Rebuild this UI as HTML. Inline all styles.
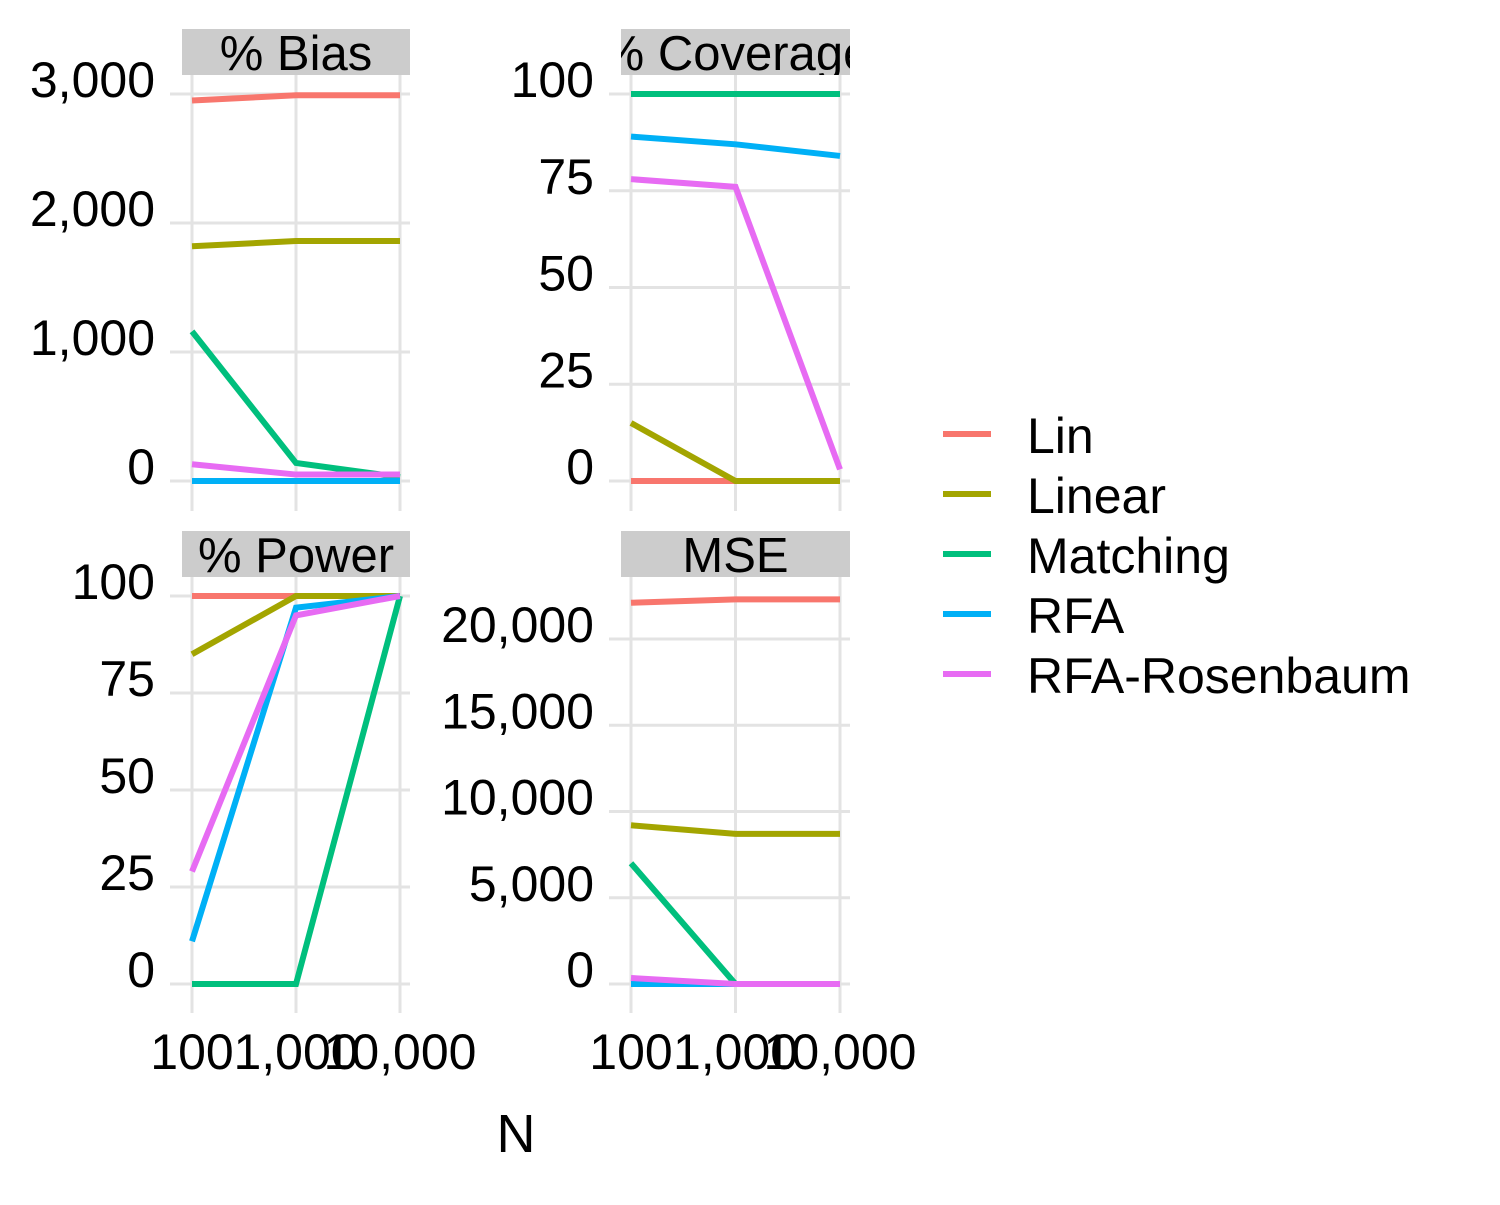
<!DOCTYPE html>
<html><head><meta charset="utf-8"><style>
body{margin:0;background:#fff}
svg text{font-family:"Liberation Sans",sans-serif}
</style></head><body>
<svg id="c" width="1500" height="1200" xmlns="http://www.w3.org/2000/svg"></svg>
<script>
const nValues=[100,1000,10000];
const xTickLabels=["100","1,000","10,000"];
const seriesNames=["Lin","Linear","Matching","RFA","RFA-Rosenbaum"];
const colors=["#F8766D","#A3A500","#00BF7D","#00B0F6","#E76BF3"];
const panelTitles=["% Bias","% Coverage","% Power","MSE"];
const biasLin=[2950,2990,2990];
const biasLinear=[1820,1860,1860];
const biasMatching=[1160,140,30];
const biasRFA=[0,0,0];
const biasRFAR=[130,50,50];
const covLin=[0,0,0];
const covLinear=[15,0,0];
const covMatching=[100,100,100];
const covRFA=[89,87,84];
const covRFAR=[78,76,3];
const powLin=[100,100,100];
const powLinear=[85,100,100];
const powMatching=[0,0,100];
const powRFA=[11,97,100];
const powRFAR=[29,95,100];
const mseLin=[22100,22300,22300];
const mseLinear=[9200,8700,8700];
const mseMatching=[7000,0,0];
const mseRFA=[0,0,0];
const mseRFAR=[350,0,0];
const biasTicks=[0,1000,2000,3000];
const covTicks=[0,25,50,75,100];
const powTicks=[0,25,50,75,100];
const mseTicks=[0,5000,10000,15000,20000];

const NS="http://www.w3.org/2000/svg";
const svg=document.getElementById('c');
function el(t,a,p){const e=document.createElementNS(NS,t);for(const k in a)e.setAttribute(k,a[k]);(p||svg).appendChild(e);return e;}
function fmt(v){return v.toLocaleString('en-US');}

const panels=[
 {x0:182,x1:410,top:29,y0:481,y1:94,vmax:3000,ticks:biasTicks,data:[biasLin,biasLinear,biasMatching,biasRFA,biasRFAR],name:'bias'},
 {x0:621,x1:850,top:29,y0:481,y1:94,vmax:100,ticks:covTicks,data:[covLin,covLinear,covMatching,covRFA,covRFAR],name:'coverage'},
 {x0:182,x1:410,top:531,y0:984,y1:596,vmax:100,ticks:powTicks,data:[powLin,powLinear,powMatching,powRFA,powRFAR],name:'power'},
 {x0:621,x1:850,top:531,y0:984,y1:639,vmax:20000,ticks:mseTicks,data:[mseLin,mseLinear,mseMatching,mseRFA,mseRFAR],name:'mse'}
];
panels.forEach((p,i)=>{
  const g=el('g',{});
  
  
  const bottom=p.top+470;
  const xs=v=>p.x0+10+(Math.log10(v)-2)/2*(p.x1-p.x0-20);
  const ys=v=>p.y0+(p.y1-p.y0)*v/p.vmax;
  const clipId='clip'+i;
  const cp=el('clipPath',{id:clipId},g);el('rect',{x:p.x0,y:p.top+46,width:p.x1-p.x0,height:bottom-p.top-46},cp);
  p.ticks.forEach(t=>{
    const y=ys(t);
    const l=el('line',{x1:p.x0-12,x2:p.x1,y1:y,y2:y,stroke:'#e3e3e3','stroke-width':3},g);
    
    const tx=el('text',{x:p.x0-27,y:y+3,'font-size':50,'text-anchor':'end',fill:'#000'},g);
    tx.textContent=fmt(t);
    
  });
  nValues.forEach((n,j)=>{
    const x=xs(n);
    const l=el('line',{x1:x,x2:x,y1:p.top+46,y2:bottom+12,stroke:'#e3e3e3','stroke-width':3},g);
    
    if(i>=2){const tx=el('text',{x:x,y:1069,'font-size':50,'text-anchor':'middle',fill:'#000'},g);
    tx.textContent=xTickLabels[j];
    }
  });
  const sc=el('clipPath',{id:'s'+i},g);el('rect',{x:p.x0,y:p.top,width:p.x1-p.x0,height:46},sc);
  const st=el('rect',{x:p.x0,y:p.top,width:p.x1-p.x0,height:46,fill:'#cccccc'},g);
  
  const stt=el('text',{x:(p.x0+p.x1)/2,y:p.top+41,'font-size':49,'text-anchor':'middle',fill:'#000','clip-path':'url(#s'+i+')'},g);
  stt.textContent=panelTitles[i];
  
  p.data.forEach((d,k)=>{
    const pts=d.map((v,j)=>xs(nValues[j])+','+ys(v)).join(' ');
    const pl=el('polyline',{points:pts,fill:'none',stroke:colors[k],'stroke-width':6,'clip-path':'url(#'+clipId+')'},g);
    
    
  });
});
const xt=el('text',{x:516,y:1152,'font-size':54,'text-anchor':'middle',fill:'#000'});
xt.textContent='N';


seriesNames.forEach((s,k)=>{
  const y=434+k*60;
  const g=el('g',{});
  
  
  el('line',{x1:943,x2:991,y1:y,y2:y,stroke:colors[k],'stroke-width':6},g);
  const t=el('text',{x:1027,y:y+19,'font-size':50,fill:'#000'},g);t.textContent=s;
});
</script>
</body></html>
